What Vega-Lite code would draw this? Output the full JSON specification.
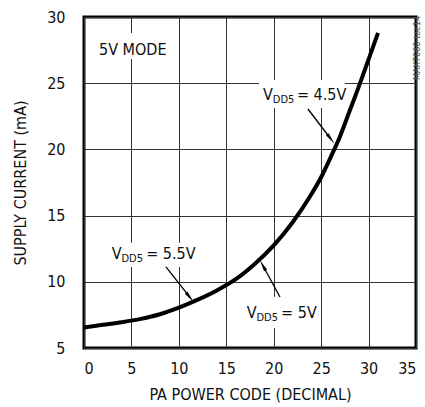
{
  "$schema": "https://vega.github.io/schema/vega-lite/v6.json",
  "width": 332,
  "height": 331,
  "autosize": {"type": "none"},
  "padding": {"left": 84, "top": 17, "right": 9, "bottom": 59},
  "background": "white",
  "config": {
    "font": "DejaVu Sans Condensed, Liberation Sans Narrow, sans-serif",
    "view": {"stroke": "black", "strokeWidth": 3},
    "axis": {
      "grid": true, "gridColor": "#333", "gridWidth": 1, "gridOpacity": 1,
      "ticks": false, "domain": false,
      "labelFont": "DejaVu Sans Condensed, Liberation Sans Narrow, sans-serif",
      "titleFont": "DejaVu Sans Condensed, Liberation Sans Narrow, sans-serif",
      "labelFontSize": 16, "titleFontSize": 16, "labelColor": "#111", "titleColor": "#111",
      "titleFontWeight": "normal"
    }
  },
  "datasets": {
    "curve": [
      {"code": 0, "current": 6.55}, {"code": 2, "current": 6.75}, {"code": 4, "current": 6.95},
      {"code": 6, "current": 7.2}, {"code": 8, "current": 7.55}, {"code": 10, "current": 8.05},
      {"code": 12, "current": 8.65}, {"code": 14, "current": 9.35}, {"code": 16, "current": 10.2},
      {"code": 18, "current": 11.35}, {"code": 20, "current": 12.75}, {"code": 22, "current": 14.5},
      {"code": 24, "current": 16.65}, {"code": 25, "current": 17.9}, {"code": 26, "current": 19.4},
      {"code": 27, "current": 21.0}, {"code": 28, "current": 22.9}, {"code": 29, "current": 24.8},
      {"code": 30, "current": 26.8}, {"code": 31, "current": 28.8}
    ],
    "boxes": [
      {"x1": 1.16, "x2": 9.2, "y1": 26.83, "y2": 28.79},
      {"x1": 18.45, "x2": 27.5, "y1": 23.13, "y2": 25.24},
      {"x1": 2.53, "x2": 11.2, "y1": 11.12, "y2": 12.94},
      {"x1": 16.76, "x2": 24.3, "y1": 6.51, "y2": 8.88}
    ],
    "arrows": [
      {"x1": 23.61, "y1": 23.05, "x2": 25.9, "y2": 20.9, "angle": 143},
      {"x1": 8.64, "y1": 11.12, "x2": 11.03, "y2": 8.95, "angle": 142},
      {"x1": 20.66, "y1": 8.85, "x2": 18.94, "y2": 11.12, "angle": 331}
    ],
    "bigText": [
      {"x": 1.58, "y": 27.13, "label": "5V MODE"},
      {"x": 18.87, "y": 23.73, "label": "V"},
      {"x": 22.45, "y": 23.73, "label": "= 4.5V"},
      {"x": 2.92, "y": 11.7, "label": "V"},
      {"x": 6.55, "y": 11.7, "label": "= 5.5V"},
      {"x": 17.15, "y": 7.24, "label": "V"},
      {"x": 20.78, "y": 7.24, "label": "= 5V"}
    ],
    "subText": [
      {"x": 19.9, "y": 23.73, "label": "DD5"},
      {"x": 3.95, "y": 11.7, "label": "DD5"},
      {"x": 18.18, "y": 7.24, "label": "DD5"}
    ],
    "sideText": [
      {"x": 35.15, "y": 27.66, "label": "MAX7060 toc14"}
    ]
  },
  "layer": [
    {
      "data": {"name": "boxes"},
      "mark": {"type": "rect", "fill": "white", "stroke": null},
      "encoding": {
        "x": {"field": "x1", "type": "quantitative", "scale": {"domain": [0, 35], "nice": false, "zero": false},
              "axis": {"values": [0, 5, 10, 15, 20, 25, 30, 35], "title": "PA POWER CODE (DECIMAL)", "labelPadding": 12, "titlePadding": 10}},
        "x2": {"field": "x2"},
        "y": {"field": "y1", "type": "quantitative", "scale": {"domain": [5, 30], "nice": false, "zero": false},
              "axis": {"values": [5, 10, 15, 20, 25, 30], "title": "SUPPLY CURRENT (mA)", "labelPadding": 19, "titlePadding": 18}},
        "y2": {"field": "y2"}
      }
    },
    {
      "data": {"name": "curve"},
      "mark": {"type": "line", "color": "black", "strokeWidth": 4, "interpolate": "monotone"},
      "encoding": {
        "x": {"field": "code", "type": "quantitative"},
        "y": {"field": "current", "type": "quantitative"}
      }
    },
    {
      "data": {"name": "arrows"},
      "mark": {"type": "rule", "color": "black", "strokeWidth": 1.3},
      "encoding": {
        "x": {"field": "x1", "type": "quantitative"},
        "y": {"field": "y1", "type": "quantitative"},
        "x2": {"field": "x2"},
        "y2": {"field": "y2"}
      }
    },
    {
      "data": {"name": "arrows"},
      "mark": {"type": "point", "shape": "wedge", "filled": true, "color": "black", "size": 190, "opacity": 1},
      "encoding": {
        "x": {"field": "x2", "type": "quantitative"},
        "y": {"field": "y2", "type": "quantitative"},
        "angle": {"field": "angle", "type": "quantitative", "scale": null}
      }
    },
    {
      "data": {"name": "bigText"},
      "mark": {"type": "text", "align": "left", "baseline": "alphabetic", "fontSize": 16, "color": "#111"},
      "encoding": {
        "x": {"field": "x", "type": "quantitative"},
        "y": {"field": "y", "type": "quantitative"},
        "text": {"field": "label"}
      }
    },
    {
      "data": {"name": "subText"},
      "mark": {"type": "text", "align": "left", "baseline": "alphabetic", "fontSize": 11, "dy": 3, "color": "#111"},
      "encoding": {
        "x": {"field": "x", "type": "quantitative"},
        "y": {"field": "y", "type": "quantitative"},
        "text": {"field": "label"}
      }
    },
    {
      "data": {"name": "sideText"},
      "mark": {"type": "text", "align": "center", "baseline": "middle", "fontSize": 9, "angle": 270, "color": "#555"},
      "encoding": {
        "x": {"field": "x", "type": "quantitative"},
        "y": {"field": "y", "type": "quantitative"},
        "text": {"field": "label"}
      }
    }
  ]
}
